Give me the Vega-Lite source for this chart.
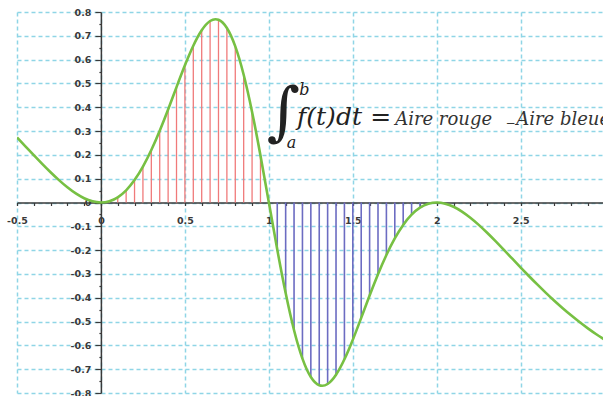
{
  "$schema": "https://vega.github.io/schema/vega-lite/v6.json",
  "width": 586,
  "height": 381,
  "autosize": "none",
  "padding": {"left": 17, "top": 12, "right": 0, "bottom": 3},
  "background": "white",
  "config": {
    "view": {"stroke": null},
    "axis": {
      "labelFont": "DejaVu Sans",
      "labelFontSize": 9.5,
      "labelFontWeight": "bold",
      "labelColor": "#3a3a3a",
      "domainColor": "#3a3a3a",
      "domainWidth": 1.5,
      "tickColor": "#3a3a3a",
      "tickWidth": 1.2,
      "gridColor": "#8fd5e6",
      "gridDash": [4, 3],
      "gridWidth": 1.5,
      "labelOverlap": false,
      "labelFlush": false,
      "labelBound": false,
      "title": null
    },
    "text": {"color": "#222222", "font": "DejaVu Serif"}
  },
  "datasets": {
    "curve": [
      {"t": -0.5, "f": 0.2731}, {"t": -0.45, "f": 0.2361}, {"t": -0.4, "f": 0.199}, {"t": -0.35, "f": 0.1625},
      {"t": -0.3, "f": 0.1272}, {"t": -0.25, "f": 0.094}, {"t": -0.2, "f": 0.064}, {"t": -0.15, "f": 0.0382},
      {"t": -0.1, "f": 0.018}, {"t": -0.05, "f": 0.0048}, {"t": 0, "f": 0}, {"t": 0.05, "f": 0.0053},
      {"t": 0.1, "f": 0.0219}, {"t": 0.15, "f": 0.0512}, {"t": 0.2, "f": 0.094}, {"t": 0.25, "f": 0.1505},
      {"t": 0.3, "f": 0.2202}, {"t": 0.35, "f": 0.3013}, {"t": 0.4, "f": 0.3908}, {"t": 0.45, "f": 0.4844},
      {"t": 0.5, "f": 0.576}, {"t": 0.55, "f": 0.6584}, {"t": 0.6, "f": 0.7233}, {"t": 0.65, "f": 0.7622},
      {"t": 0.7, "f": 0.7673}, {"t": 0.75, "f": 0.7328}, {"t": 0.8, "f": 0.6554}, {"t": 0.85, "f": 0.5363},
      {"t": 0.9, "f": 0.3805}, {"t": 0.95, "f": 0.1975}, {"t": 1, "f": 0},
      {"t": 1.05, "f": -0.1975}, {"t": 1.1, "f": -0.3805}, {"t": 1.15, "f": -0.5363}, {"t": 1.2, "f": -0.6554},
      {"t": 1.25, "f": -0.7328}, {"t": 1.3, "f": -0.7673}, {"t": 1.35, "f": -0.7622}, {"t": 1.4, "f": -0.7233},
      {"t": 1.45, "f": -0.6584}, {"t": 1.5, "f": -0.576}, {"t": 1.55, "f": -0.4844}, {"t": 1.6, "f": -0.3908},
      {"t": 1.65, "f": -0.3013}, {"t": 1.7, "f": -0.2202}, {"t": 1.75, "f": -0.1505}, {"t": 1.8, "f": -0.094},
      {"t": 1.85, "f": -0.0512}, {"t": 1.9, "f": -0.0219}, {"t": 1.95, "f": -0.0053}, {"t": 2, "f": 0},
      {"t": 2.05, "f": -0.0048}, {"t": 2.1, "f": -0.018}, {"t": 2.15, "f": -0.0382}, {"t": 2.2, "f": -0.064},
      {"t": 2.25, "f": -0.094}, {"t": 2.3, "f": -0.1272}, {"t": 2.35, "f": -0.1625}, {"t": 2.4, "f": -0.199},
      {"t": 2.45, "f": -0.2361}, {"t": 2.5, "f": -0.2731}, {"t": 2.55, "f": -0.3096}, {"t": 2.6, "f": -0.3452},
      {"t": 2.65, "f": -0.3796}, {"t": 2.7, "f": -0.4127}, {"t": 2.75, "f": -0.4441}, {"t": 2.8, "f": -0.474},
      {"t": 2.85, "f": -0.5021}, {"t": 2.9, "f": -0.5284}, {"t": 2.95, "f": -0.5531}, {"t": 3, "f": -0.576}
    ],
    "formula": [
      {"piece": "integrale", "symbole": "∫"},
      {"piece": "borne_b", "symbole": "b"},
      {"piece": "borne_a", "symbole": "a"},
      {"piece": "integrande", "symbole": "f(t)dt"},
      {"piece": "egal", "symbole": "="},
      {"piece": "rouge", "symbole": "Aire rouge"},
      {"piece": "moins", "symbole": "−"},
      {"piece": "bleue", "symbole": "Aire bleue"}
    ]
  },
  "layer": [
    {
      "data": {"name": "curve"},
      "layer": [
        {
          "transform": [{"filter": "datum.t > 0.01 && datum.t < 0.99"}],
          "mark": {"type": "rule", "color": "#f07a7a", "strokeWidth": 1.3},
          "encoding": {"y2": {"datum": 0}}
        },
        {
          "transform": [{"filter": "datum.t > 1.01 && datum.t < 1.99"}],
          "mark": {"type": "rule", "color": "#6c6cc2", "strokeWidth": 1.6},
          "encoding": {"y2": {"datum": 0}}
        },
        {
          "mark": {"type": "line", "color": "#77c043", "strokeWidth": 2.6, "interpolate": "natural", "clip": true}
        }
      ],
      "encoding": {
        "x": {
          "field": "t",
          "type": "quantitative",
          "scale": {"domain": [-0.5, 2.99], "nice": false, "zero": false},
          "axis": {
            "orient": "bottom",
            "offset": -190.5,
            "values": [-0.5, -0.4, -0.3, -0.2, -0.1, 0, 0.1, 0.2, 0.3, 0.4, 0.5, 0.6, 0.7, 0.8, 0.9, 1, 1.1, 1.2, 1.3, 1.4, 1.5, 1.6, 1.7, 1.8, 1.9, 2, 2.1, 2.2, 2.3, 2.4, 2.5, 2.6, 2.7, 2.8, 2.9, 3],
            "labelExpr": "abs(round(datum.value*10)) % 5 == 0 ? '' + round(datum.value*10)/10 : ''",
            "grid": true,
            "gridOpacity": {"condition": {"test": "abs(round(datum.value*10)) % 5 != 0", "value": 0}, "value": 1},
            "tickSize": 3,
            "labelPadding": 10
          }
        },
        "y": {
          "field": "f",
          "type": "quantitative",
          "scale": {"domain": [-0.8, 0.8], "nice": false, "zero": false},
          "axis": {
            "orient": "left",
            "offset": -83.9,
            "values": [-0.8, -0.75, -0.7, -0.65, -0.6, -0.55, -0.5, -0.45, -0.4, -0.35, -0.3, -0.25, -0.2, -0.15, -0.1, -0.05, 0, 0.05, 0.1, 0.15, 0.2, 0.25, 0.3, 0.35, 0.4, 0.45, 0.5, 0.55, 0.6, 0.65, 0.7, 0.75, 0.8],
            "labelExpr": "abs(round(datum.value*20)) % 2 == 0 ? '' + round(datum.value*10)/10 : ''",
            "grid": true,
            "gridOpacity": {"condition": {"test": "abs(round(datum.value*20)) % 2 != 0", "value": 0}, "value": 1},
            "tickSize": {"condition": {"test": "abs(round(datum.value*20)) % 2 != 0", "value": 2}, "value": 6},
            "labelPadding": 4
          }
        }
      }
    },
    {
      "data": {"name": "formula"},
      "layer": [
        {
          "transform": [{"filter": "datum.piece == 'integrale'"}],
          "mark": {"type": "text", "fontStyle": "italic", "fontSize": 64, "align": "center", "baseline": "middle"},
          "encoding": {"x": {"datum": 1.085}, "y": {"datum": 0.372}}
        },
        {
          "transform": [{"filter": "datum.piece == 'borne_b'"}],
          "mark": {"type": "text", "fontStyle": "italic", "fontSize": 16, "align": "center", "baseline": "alphabetic"},
          "encoding": {"x": {"datum": 1.212}, "y": {"datum": 0.4514}}
        },
        {
          "transform": [{"filter": "datum.piece == 'borne_a'"}],
          "mark": {"type": "text", "fontStyle": "italic", "fontSize": 16, "align": "center", "baseline": "alphabetic"},
          "encoding": {"x": {"datum": 1.135}, "y": {"datum": 0.2288}}
        },
        {
          "transform": [{"filter": "datum.piece == 'integrande'"}],
          "mark": {"type": "text", "fontStyle": "italic", "fontSize": 25, "align": "left", "baseline": "alphabetic"},
          "encoding": {"x": {"datum": 1.168}, "y": {"datum": 0.3254}}
        },
        {
          "transform": [{"filter": "datum.piece == 'egal'"}],
          "mark": {"type": "text", "fontSize": 25, "align": "center", "baseline": "alphabetic"},
          "encoding": {"x": {"datum": 1.6656}, "y": {"datum": 0.3254}}
        },
        {
          "transform": [{"filter": "datum.piece == 'rouge'"}],
          "mark": {"type": "text", "fontStyle": "italic", "fontSize": 18, "align": "left", "baseline": "alphabetic", "color": "#333333"},
          "encoding": {"x": {"datum": 1.752}, "y": {"datum": 0.3254}}
        },
        {
          "transform": [{"filter": "datum.piece == 'moins'"}],
          "mark": {"type": "text", "fontSize": 12, "align": "center", "baseline": "alphabetic", "color": "#333333"},
          "encoding": {"x": {"datum": 2.44}, "y": {"datum": 0.317}}
        },
        {
          "transform": [{"filter": "datum.piece == 'bleue'"}],
          "mark": {"type": "text", "fontStyle": "italic", "fontSize": 18, "align": "left", "baseline": "alphabetic", "color": "#333333"},
          "encoding": {"x": {"datum": 2.473}, "y": {"datum": 0.3254}}
        }
      ],
      "encoding": {
        "text": {"field": "symbole", "type": "nominal"},
        "x": {
          "datum": 0,
          "type": "quantitative",
          "scale": {"domain": [-0.5, 2.99], "nice": false, "zero": false},
          "axis": {
            "orient": "bottom",
            "offset": -190.5,
            "values": [-0.5, -0.4, -0.3, -0.2, -0.1, 0, 0.1, 0.2, 0.3, 0.4, 0.5, 0.6, 0.7, 0.8, 0.9, 1, 1.1, 1.2, 1.3, 1.4, 1.5, 1.6, 1.7, 1.8, 1.9, 2, 2.1, 2.2, 2.3, 2.4, 2.5, 2.6, 2.7, 2.8, 2.9, 3],
            "labelExpr": "abs(round(datum.value*10)) % 5 == 0 ? '' + round(datum.value*10)/10 : ''",
            "grid": true,
            "gridOpacity": {"condition": {"test": "abs(round(datum.value*10)) % 5 != 0", "value": 0}, "value": 1},
            "tickSize": 3,
            "labelPadding": 10
          }
        },
        "y": {
          "datum": 0,
          "type": "quantitative",
          "scale": {"domain": [-0.8, 0.8], "nice": false, "zero": false},
          "axis": {
            "orient": "left",
            "offset": -83.9,
            "values": [-0.8, -0.75, -0.7, -0.65, -0.6, -0.55, -0.5, -0.45, -0.4, -0.35, -0.3, -0.25, -0.2, -0.15, -0.1, -0.05, 0, 0.05, 0.1, 0.15, 0.2, 0.25, 0.3, 0.35, 0.4, 0.45, 0.5, 0.55, 0.6, 0.65, 0.7, 0.75, 0.8],
            "labelExpr": "abs(round(datum.value*20)) % 2 == 0 ? '' + round(datum.value*10)/10 : ''",
            "grid": true,
            "gridOpacity": {"condition": {"test": "abs(round(datum.value*20)) % 2 != 0", "value": 0}, "value": 1},
            "tickSize": {"condition": {"test": "abs(round(datum.value*20)) % 2 != 0", "value": 2}, "value": 6},
            "labelPadding": 4
          }
        }
      }
    }
  ]
}
